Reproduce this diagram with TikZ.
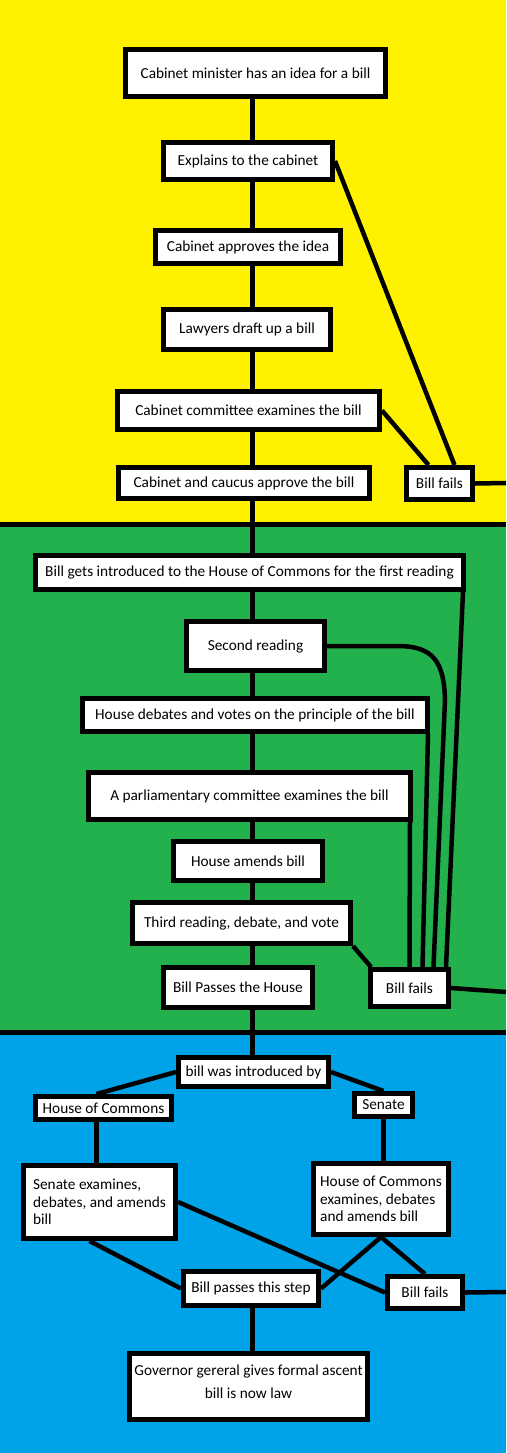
\documentclass[tikz,border=0pt]{standalone}
\usepackage{fontspec}
\setmainfont{Carlito}

\definecolor{billyellow}{RGB}{255,242,0}
\definecolor{billgreen}{RGB}{34,177,76}
\definecolor{billblue}{RGB}{0,162,232}

\begin{document}
\begin{tikzpicture}[x=1pt, y=-1pt,
    stage/.style={draw, fill=white, line width=5pt, inner sep=0pt,
        font=\fontsize{15.3}{17.5}\selectfont},
    link/.style={line width=4.5pt}]

\useasboundingbox (0,0) rectangle (506,1453);

% the three chambers
\fill[billyellow] (0,0) rectangle (506,524);
\fill[billgreen] (0,524) rectangle (506,1032);
\fill[billblue] (0,1032) rectangle (506,1453);
\draw[line width=5pt] (0,524) -- (506,524);
\draw[line width=5pt] (0,1032) -- (506,1032);

\coordinate (spine) at (252.5,0);

% cabinet
\node[stage, minimum width=260pt, minimum height=47pt] (cabidea) at (255.5,73)
    {Cabinet minister has an idea for a bill};
\node[stage, minimum width=169pt, minimum height=37pt] (explain) at (248,161)
    {Explains to the cabinet};
\node[stage, minimum width=185pt, minimum height=33pt] (approve) at (248,247)
    {Cabinet approves the idea};
\node[stage, minimum width=167pt, minimum height=40pt] (lawyers) at (247,329.5)
    {Lawyers draft up a bill};
\node[stage, minimum width=262pt, minimum height=38pt] (cabcomm) at (248.5,410.5)
    {Cabinet committee examines the bill};
\node[stage, minimum width=251pt, minimum height=31pt] (caucus) at (244,483)
    {Cabinet and caucus approve the bill};
\node[stage, minimum width=66pt, minimum height=32pt] (failone) at (439.5,483.5)
    {Bill fails};

% house of commons
\node[stage, minimum width=428pt, minimum height=34pt] (firstread) at (249.5,572.5)
    {Bill gets introduced to the House of Commons for the first reading};
\node[stage, minimum width=138pt, minimum height=49pt] (secondread) at (255.5,646)
    {Second reading};
\node[stage, minimum width=345pt, minimum height=33pt] (debates) at (255,715)
    {House debates and votes on the principle of the bill};
\node[stage, minimum width=322pt, minimum height=47pt] (parlcomm) at (249.5,796)
    {A parliamentary committee examines the bill};
\node[stage, minimum width=149pt, minimum height=39pt] (amends) at (248,861)
    {House amends bill};
\node[stage, minimum width=218pt, minimum height=41pt] (thirdread) at (241.5,923)
    {Third reading, debate, and vote};
\node[stage, minimum width=149pt, minimum height=40pt] (passhouse) at (238,987.5)
    {Bill Passes the House};
\node[stage, minimum width=78pt, minimum height=37pt] (failtwo) at (409.5,988)
    {Bill fails};

% senate
\node[stage, minimum width=150pt, minimum height=29pt] (introby) at (253.5,1072)
    {bill was introduced by};
\node[stage, minimum width=136pt, minimum height=23pt] (bycommons) at (103.5,1108)
    {House of Commons};
\node[stage, minimum width=58pt, minimum height=23pt] (bysenate) at (383.5,1105)
    {Senate};
\node[stage, align=left, minimum width=152pt, minimum height=73pt] (senexam) at (99.5,1202)
    {Senate examines,\\debates, and amends\\bill};
\node[stage, align=left, minimum width=135pt, minimum height=71pt] (hocexam) at (381,1199)
    {House of Commons\\examines, debates\\and amends bill};
\node[stage, minimum width=135pt, minimum height=34pt] (steppass) at (251,1288.5)
    {Bill passes this step};
\node[stage, minimum width=75pt, minimum height=32pt] (failthree) at (425,1292.5)
    {Bill fails};
\node[stage, align=center, minimum width=238pt, minimum height=66pt] (assent) at (248.5,1386.5)
    {Governor gereral gives formal ascent\\[5.5pt]bill is now law\\[-7pt]\mbox{}};

% main line
\draw[link] (cabidea.south -| spine) -- (explain.north -| spine);
\draw[link] (explain.south -| spine) -- (approve.north -| spine);
\draw[link] (approve.south -| spine) -- (lawyers.north -| spine);
\draw[link] (lawyers.south -| spine) -- (cabcomm.north -| spine);
\draw[link] (cabcomm.south -| spine) -- (caucus.north -| spine);
\draw[link] (caucus.south -| spine) -- (firstread.north -| spine);
\draw[link] (firstread.south -| spine) -- (secondread.north -| spine);
\draw[link] (secondread.south -| spine) -- (debates.north -| spine);
\draw[link] (debates.south -| spine) -- (parlcomm.north -| spine);
\draw[link] (parlcomm.south -| spine) -- (amends.north -| spine);
\draw[link] (amends.south -| spine) -- (thirdread.north -| spine);
\draw[link] (thirdread.south -| spine) -- (passhouse.north -| spine);
\draw[link] (passhouse.south -| spine) -- (introby.north -| spine);
\draw[link] (steppass.south -| spine) -- (assent.north -| spine);

% failures in cabinet
\coordinate (edgeone) at (506,483);
\draw[link] (explain.east) -- ([xshift=15pt]failone.north);
\draw[link] (cabcomm.east) -- ([xshift=-11pt]failone.north);
\draw[link] (failone.east) -- (edgeone);

% failures in the house
\coordinate (edgetwo) at (506,992);
\draw[link] ([xshift=-3pt]firstread.south east) -- ([xshift=-5pt]failtwo.north east);
\draw[link] (secondread.east) -- ++(70,0) .. controls (432,646) and (444,660) .. (445,700)
    -- ([xshift=24pt]failtwo.north);
\draw[link] ([xshift=-2pt]debates.south east) -- ([xshift=13pt]failtwo.north);
\draw[link] ([xshift=-3pt]parlcomm.south east) -- (failtwo.north);
\draw[link] (thirdread.south east) -- ([xshift=3pt]failtwo.north west);
\draw[link] (failtwo.east) -- (edgetwo);

% who brought the bill in
\coordinate (commonsdrop) at ([xshift=-7pt]bycommons.south);
\draw[link] (introby.west) -- ([xshift=-7pt]bycommons.north);
\draw[link] (introby.east) -- (bysenate.north);
\draw[link] (commonsdrop) -- (commonsdrop |- senexam.north);
\draw[link] (bysenate.south) -- (bysenate.south |- hocexam.north);

% outcome
\coordinate (edgethree) at (506,1292);
\draw[link] ([xshift=-10pt]senexam.south) -- (steppass.west);
\draw[link] (senexam.east) -- (failthree.west);
\draw[link] (hocexam.south) -- (steppass.east);
\draw[link] (hocexam.south) -- (failthree.north);
\draw[link] (failthree.east) -- (edgethree);

\end{tikzpicture}
\end{document}
